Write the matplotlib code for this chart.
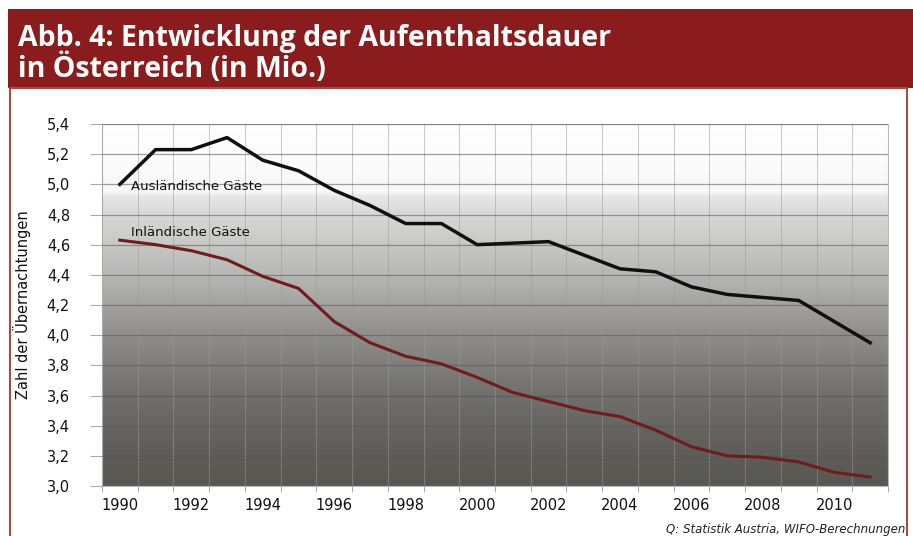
import numpy as np
import matplotlib
matplotlib.use("Agg")
import matplotlib.pyplot as plt
from matplotlib.colors import LinearSegmentedColormap
from matplotlib.patches import Rectangle

plt.rcParams["font.family"] = ["DejaVu Sans"]

# Data (Mio. Uebernachtungen)
years = list(range(1990, 2012))
auslaendisch = [5.00, 5.23, 5.23, 5.31, 5.16, 5.09, 4.96, 4.86, 4.74, 4.74, 4.60,
                4.61, 4.62, 4.53, 4.44, 4.42, 4.32, 4.27, 4.25, 4.23, 4.09, 3.95]
inlaendisch = [4.63, 4.60, 4.56, 4.50, 4.39, 4.31, 4.09, 3.95, 3.86, 3.81, 3.72,
               3.62, 3.56, 3.50, 3.46, 3.37, 3.26, 3.20, 3.19, 3.16, 3.09, 3.06]
yticks = [3.0, 3.2, 3.4, 3.6, 3.8, 4.0, 4.2, 4.4, 4.6, 4.8, 5.0, 5.2, 5.4]
xticks = list(range(1990, 2012, 2))

title = "Abb. 4: Entwicklung der Aufenthaltsdauer\nin Österreich (in Mio.)"
ylabel = "Zahl der Übernachtungen"
source = "Q: Statistik Austria, WIFO-Berechnungen"

fig = plt.figure(figsize=(9.13, 5.36), dpi=100)
fig.patch.set_facecolor("white")

# title band + red frame
fig.patches.append(Rectangle((8/913, 1-88/536), 1-8/913, 79/536, transform=fig.transFigure,
                             facecolor="#8a1c1e", edgecolor="none", zorder=0))
fig.patches.append(Rectangle((10/913, -0.01), 897/913, 1-88/536+0.01, transform=fig.transFigure,
                             facecolor="white", edgecolor="#a84848", lw=1.5, zorder=0))
fig.text(18/913, 1-24/536, title, color="white", fontsize=20.5, fontweight="bold",
         family="Open Sans", va="top", ha="left", linespacing=1.02)

ax = fig.add_axes([102/913, 1-486/536, 786/913, 362/536])
ax.set_zorder(2)
ax.patch.set_alpha(0)

# background gradient: white on top, darkening grey towards the bottom
cmap = LinearSegmentedColormap.from_list("bg", [
    (0.00, "#595752"), (0.10, "#605e5a"), (0.25, "#706f6b"), (0.42, "#8f8e8b"),
    (0.58, "#b6b6b4"), (0.70, "#cececd"), (0.76, "#dadada"), (0.80, "#e6e6e6"),
    (0.815, "#f8f8f8"), (1.00, "#ffffff")])
grad = np.linspace(0, 1, 256).reshape(-1, 1)
ax.imshow(grad, aspect="auto", cmap=cmap, origin="lower",
          extent=(1989.5, 2011.5, 3.0, 5.4), zorder=0)

ax.plot(years, auslaendisch, color="#101010", lw=2.5, zorder=3)
ax.plot(years, inlaendisch, color="#6e1c1c", lw=2.2, zorder=3)

ax.text(1990.3, 4.985, "Ausländische Gäste", fontsize=9.5,
        color="#111111", va="center", zorder=4)
ax.text(1990.3, 4.68, "Inländische Gäste", fontsize=9.5,
        color="#111111", va="center", zorder=4)

ax.set_xlim(1989.5, 2011.5)
ax.set_ylim(3.0, 5.4)
ax.set_xticks(xticks)
ax.set_xticks(np.arange(1989.5, 2012, 1.0), minor=True)
ax.set_yticks(yticks)
ax.set_yticklabels([f"{v:.1f}".replace(".", ",") for v in yticks])
ax.tick_params(axis="x", which="major", length=0, pad=9, labelsize=10.5)
ax.tick_params(axis="x", which="minor", length=4, color="#999999")
ax.tick_params(axis="y", length=9, color="#aaaaaa", pad=14, labelsize=10.5)
for lab in ax.get_yticklabels() + ax.get_xticklabels():
    lab.set_color("#111111")

ax.grid(axis="y", which="major", color="#555555", lw=0.9, alpha=0.55, zorder=1)
ax.grid(axis="x", which="minor", color="#9a9a9a", lw=0.6, alpha=0.6, zorder=1)
for s in ax.spines.values():
    s.set_color("#bbbbbb")
    s.set_linewidth(0.8)
ax.set_axisbelow(False)

fig.text(22/913, 1-305/536, ylabel, rotation=90, fontsize=10.5, va="center", ha="center",
         color="#111111")
fig.text(905/913, 1-529/536, source, fontsize=8.5, style="italic", ha="right", va="center",
         color="#222222")

fig.savefig("out.png", dpi=100)
